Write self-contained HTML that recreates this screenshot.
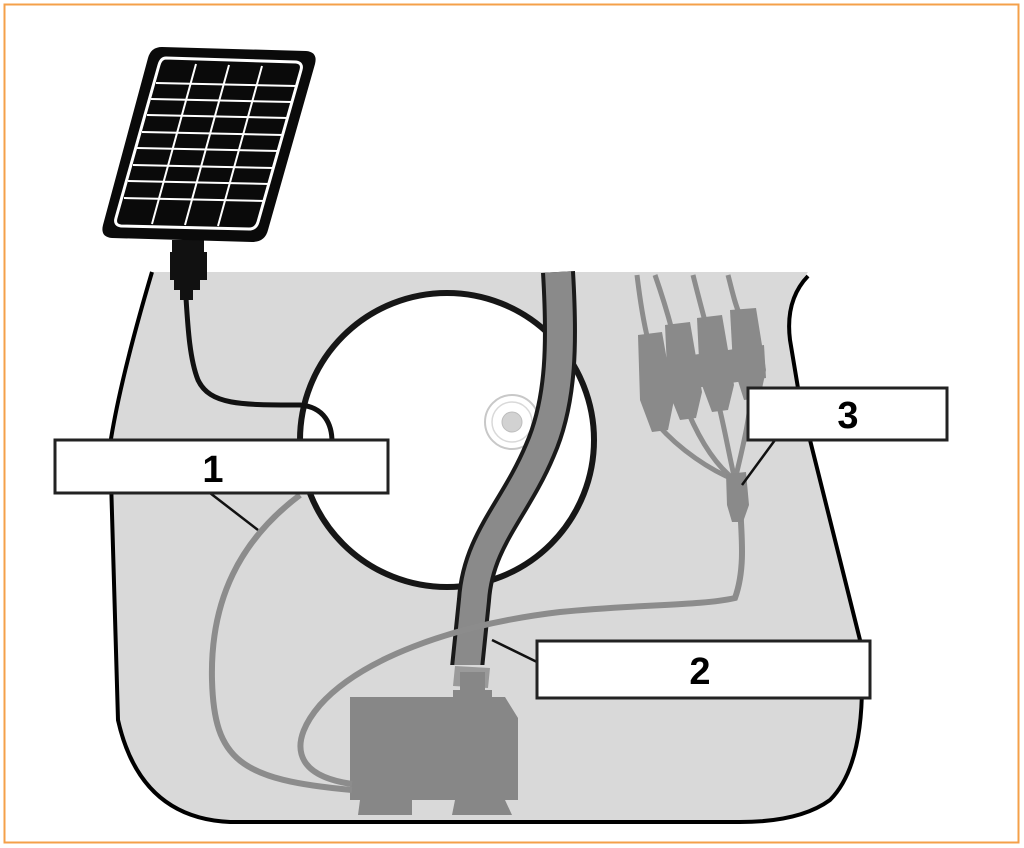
<!DOCTYPE html>
<html><head><meta charset="utf-8"><style>
html,body{margin:0;padding:0;background:#fff;}
svg{display:block;}
text{font-family:"Liberation Sans",Arial,sans-serif;font-weight:bold;}
</style></head><body>
<svg width="1024" height="848" viewBox="0 0 1024 848" xmlns="http://www.w3.org/2000/svg">
<rect x="4.5" y="4.5" width="1014" height="838" fill="#fff" stroke="#f4a04a" stroke-width="2"/>
<path d="M152,272 L808,272 Q785,300 790,340 L800,400 Q830,520 860,640 Q870,760 830,800 Q800,822 740,822 L230,822 Q140,818 118,720 L110,445 Q120,380 152,272 Z" fill="#d9d9d9"/>
<path d="M152,272 Q120,380 110,445 L118,720 Q140,818 230,822 L740,822 Q800,822 830,800 Q870,760 860,640 Q830,520 800,400 L790,340 Q785,300 808,276" fill="none" stroke="#000" stroke-width="4"/>
<circle cx="447" cy="440" r="147" fill="#fff" stroke="#161616" stroke-width="6"/>
<circle cx="512" cy="422" r="27" fill="none" stroke="#c8c8c8" stroke-width="2"/>
<circle cx="512" cy="422" r="20" fill="none" stroke="#d9d9d9" stroke-width="1.5"/>
<circle cx="512" cy="422" r="10" fill="#d2d2d2" stroke="#bdbdbd" stroke-width="1"/>
<path d="M558,272 C562,340 562,400 540,450 C515,510 478,540 474,600 L467,668" fill="none" stroke="#1a1a1a" stroke-width="34"/>
<path d="M558,272 C562,340 562,400 540,450 C515,510 478,540 474,600 L467,668" fill="none" stroke="#8a8a8a" stroke-width="26"/>
<rect x="440" y="665" width="50" height="20" fill="#d9d9d9"/>
<path d="M455,666 L490,668 L488,688 L453,686 Z" fill="#9a9a9a"/>
<path d="M350,697 L453,697 L453,690 L460,690 L460,672 L485,672 L485,690 L492,690 L492,697 L505,697 L518,718 L518,800 L350,800 Z" fill="#878787"/>
<path d="M360,800 L412,800 L412,815 L358,815 Z" fill="#878787"/>
<path d="M455,800 L505,800 L512,815 L452,815 Z" fill="#878787"/>
<path d="M300,495 C240,540 210,600 212,680 C214,760 240,780 352,790" fill="none" stroke="#8c8c8c" stroke-width="6"/>
<path d="M352,784 C290,775 290,740 320,705 C360,660 450,625 560,612 C640,604 700,606 735,598 C745,570 742,540 740,505" fill="none" stroke="#8c8c8c" stroke-width="6"/>
<g fill="none" stroke="#8c8c8c" stroke-width="5">
<path d="M637,275 C640,300 643,320 648,340"/>
<path d="M655,275 C662,295 668,315 672,330"/>
<path d="M693,275 C698,295 702,310 706,325"/>
<path d="M728,275 C732,290 735,305 740,315"/>
<path d="M658,425 C680,450 710,470 735,480"/>
<path d="M688,412 C700,440 715,465 735,480"/>
<path d="M718,402 C725,430 730,460 735,480"/>
<path d="M752,385 C750,420 742,450 735,480"/>
</g>
<g fill="#8a8a8a">
<path d="M638,335 L662,332 L674,400 L668,430 L652,432 L640,400 Z"/>
<path d="M665,325 L690,322 L702,392 L696,418 L680,420 L668,390 Z"/>
<path d="M697,318 L722,315 L734,385 L728,410 L712,412 L700,380 Z"/>
<path d="M730,310 L756,308 L766,370 L760,398 L744,400 L733,365 Z"/>
<path d="M642,362 L764,345 L766,378 L645,395 Z"/>
<path d="M726,474 L746,472 L749,505 L743,522 L732,522 L727,505 Z"/>
</g>
<path d="M186,298 C188,330 190,360 198,380 C210,405 240,405 300,405 C325,407 332,425 332,442" fill="none" stroke="#111" stroke-width="5"/>
<path d="M172,240 L204,240 L204,252 L207,252 L207,280 L200,280 L200,290 L193,290 L193,300 L180,300 L180,290 L174,290 L174,280 L170,280 L170,252 L172,252 Z" fill="#111"/>
<path d="M162,47 L306,51 Q318,52 315,64 L268,230 Q265,242 252,242 L112,238 Q100,237 103,225 L148,58 Q151,47 162,47 Z" fill="#0a0a0a"/>
<path d="M166,58 L296,62 Q303,63 301,70 L258,222 Q256,229 249,229 L121,226 Q114,225 116,218 L159,65 Q161,58 166,58 Z" fill="none" stroke="#fff" stroke-width="3"/>
<g stroke="#fff" stroke-width="2">
<line x1="196" y1="64" x2="152" y2="224"/>
<line x1="229" y1="65" x2="185" y2="225"/>
<line x1="262" y1="66" x2="218" y2="226"/>
<line x1="156" y1="83" x2="297" y2="86"/>
<line x1="151" y1="99" x2="292" y2="102"/>
<line x1="147" y1="115" x2="288" y2="118"/>
<line x1="142" y1="132" x2="283" y2="135"/>
<line x1="137" y1="148" x2="279" y2="151"/>
<line x1="133" y1="165" x2="274" y2="168"/>
<line x1="128" y1="181" x2="270" y2="184"/>
<line x1="124" y1="198" x2="265" y2="201"/>
</g>
<g stroke="#111" stroke-width="2.5">
<line x1="210" y1="493" x2="258" y2="530"/>
<line x1="537" y1="662" x2="492" y2="640"/>
<line x1="775" y1="440" x2="742" y2="485"/>
</g>
<rect x="55" y="440" width="333" height="53" fill="#fff" stroke="#222" stroke-width="3"/>
<text x="213" y="482" font-size="38" text-anchor="middle">1</text>
<rect x="537" y="641" width="333" height="57" fill="#fff" stroke="#222" stroke-width="3"/>
<text x="700" y="684" font-size="38" text-anchor="middle">2</text>
<rect x="748" y="388" width="199" height="52" fill="#fff" stroke="#222" stroke-width="3"/>
<text x="848" y="428" font-size="38" text-anchor="middle">3</text>
</svg>
</body></html>
